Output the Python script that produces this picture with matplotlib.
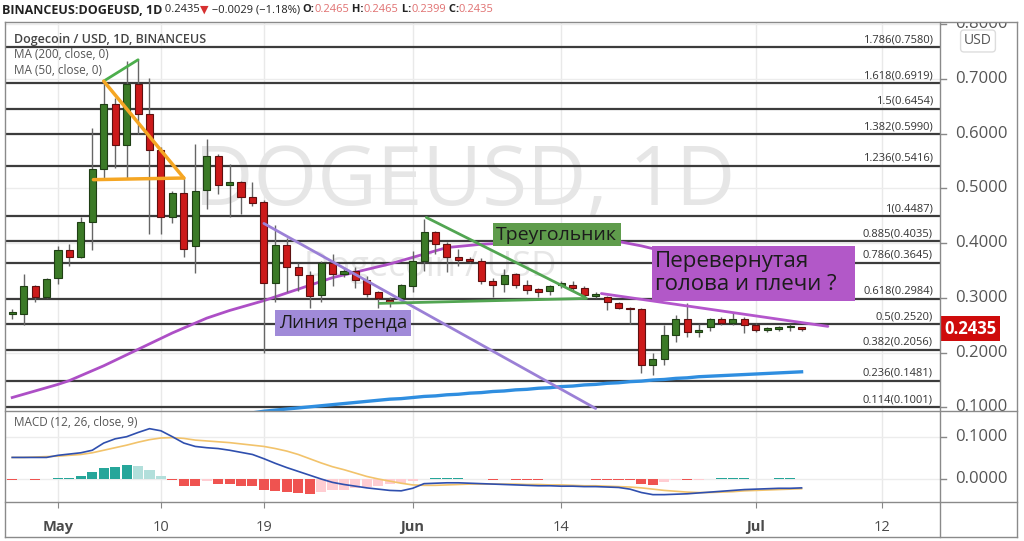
import matplotlib.pyplot as plt
import matplotlib.dates as mdates
from matplotlib.patches import Rectangle
from matplotlib.lines import Line2D
import pandas as pd

plt.rcParams['font.family'] = ['Open Sans', 'DejaVu Sans']

# daily candles, BINANCEUS:DOGEUSD
dates = pd.date_range('2021-04-27', periods=70, freq='D')
opens = [0.271, 0.271, 0.321, 0.302, 0.337, 0.388, 0.374, 0.439, 0.536, 0.654,
         0.580, 0.691, 0.636, 0.571, 0.448, 0.492, 0.395, 0.498, 0.560, 0.507,
         0.512, 0.485, 0.476, 0.328, 0.397, 0.357, 0.341, 0.306, 0.363, 0.344,
         0.350, 0.333, 0.310, 0.294, 0.299, 0.322, 0.368, 0.421, 0.399, 0.374,
         0.369, 0.368, 0.330, 0.326, 0.343, 0.324, 0.317, 0.312, 0.324, 0.324,
         0.319, 0.304, 0.302, 0.291, 0.282, 0.279, 0.177, 0.189, 0.233, 0.262,
         0.237, 0.246, 0.262, 0.255, 0.262, 0.251, 0.242, 0.244, 0.246, 0.2465]
highs = [0.279, 0.344, 0.323, 0.337, 0.395, 0.399, 0.447, 0.611, 0.696, 0.665,
         0.733, 0.737, 0.702, 0.575, 0.496, 0.519, 0.581, 0.591, 0.563, 0.545,
         0.514, 0.512, 0.478, 0.434, 0.410, 0.364, 0.350, 0.368, 0.381, 0.356,
         0.356, 0.340, 0.312, 0.302, 0.326, 0.386, 0.445, 0.423, 0.402, 0.390,
         0.375, 0.372, 0.337, 0.352, 0.345, 0.332, 0.318, 0.324, 0.330, 0.330,
         0.321, 0.310, 0.304, 0.293, 0.284, 0.282, 0.200, 0.250, 0.268, 0.290,
         0.253, 0.264, 0.266, 0.273, 0.266, 0.254, 0.246, 0.248, 0.253, 0.2465]
lows = [0.262, 0.251, 0.293, 0.299, 0.326, 0.359, 0.372, 0.388, 0.519, 0.538,
        0.518, 0.600, 0.417, 0.417, 0.437, 0.374, 0.346, 0.463, 0.490, 0.448,
        0.454, 0.467, 0.200, 0.293, 0.310, 0.313, 0.281, 0.292, 0.322, 0.338,
        0.319, 0.302, 0.282, 0.284, 0.297, 0.310, 0.350, 0.381, 0.348, 0.359,
        0.363, 0.326, 0.301, 0.310, 0.319, 0.308, 0.301, 0.306, 0.319, 0.313,
        0.302, 0.299, 0.277, 0.280, 0.253, 0.162, 0.160, 0.178, 0.220, 0.228,
        0.229, 0.240, 0.251, 0.251, 0.235, 0.237, 0.237, 0.240, 0.240, 0.2399]
closes = [0.271, 0.321, 0.301, 0.335, 0.388, 0.374, 0.439, 0.536, 0.654, 0.580,
          0.691, 0.636, 0.571, 0.448, 0.492, 0.390, 0.496, 0.560, 0.507, 0.512,
          0.485, 0.474, 0.328, 0.397, 0.357, 0.341, 0.304, 0.363, 0.344, 0.350,
          0.333, 0.308, 0.299, 0.293, 0.324, 0.368, 0.421, 0.399, 0.374, 0.370,
          0.368, 0.330, 0.324, 0.341, 0.324, 0.315, 0.310, 0.321, 0.326, 0.319,
          0.306, 0.304, 0.293, 0.282, 0.279, 0.177, 0.189, 0.233, 0.262, 0.237,
          0.242, 0.262, 0.255, 0.262, 0.251, 0.242, 0.2425, 0.2445, 0.2465, 0.2435]

ma50 = [0.118, 0.124, 0.130, 0.136, 0.142, 0.149, 0.158, 0.167, 0.176, 0.186,
        0.196, 0.206, 0.216, 0.226, 0.236, 0.245, 0.254, 0.263, 0.270, 0.277,
        0.283, 0.289, 0.295, 0.302, 0.309, 0.316, 0.323, 0.330, 0.337, 0.342,
        0.347, 0.352, 0.357, 0.362, 0.368, 0.374, 0.380, 0.386, 0.392, 0.394,
        0.396, 0.398, 0.399, 0.400, 0.401, 0.402, 0.403, 0.404, 0.404, 0.404,
        0.404, 0.404, 0.404, 0.403, 0.399, 0.395, 0.390, 0.385, 0.380, 0.375,
        0.370, 0.365, 0.360, 0.355, 0.350, 0.345, 0.340, 0.336, 0.332, 0.328]
ma200 = [0.055, 0.057, 0.059, 0.061, 0.063, 0.065, 0.067, 0.069, 0.071, 0.073,
         0.074, 0.075, 0.077, 0.078, 0.080, 0.081, 0.083, 0.084, 0.085, 0.087,
         0.088, 0.090, 0.093, 0.095, 0.097, 0.099, 0.101, 0.103, 0.105, 0.107,
         0.109, 0.111, 0.113, 0.115, 0.116, 0.118, 0.120, 0.121, 0.123, 0.124,
         0.126, 0.127, 0.129, 0.130, 0.132, 0.133, 0.135, 0.136, 0.138, 0.139,
         0.141, 0.142, 0.144, 0.145, 0.147, 0.148, 0.150, 0.151, 0.153, 0.154,
         0.156, 0.157, 0.158, 0.159, 0.160, 0.161, 0.162, 0.163, 0.164, 0.165]

macd = [0.051, 0.051, 0.051, 0.051, 0.056, 0.059, 0.062, 0.068, 0.085, 0.095,
        0.100, 0.110, 0.119, 0.114, 0.100, 0.085, 0.077, 0.074, 0.072, 0.068,
        0.063, 0.058, 0.048, 0.037, 0.027, 0.018, 0.009, 0.000, -0.008, -0.013,
        -0.017, -0.021, -0.024, -0.027, -0.028, -0.022, -0.011, -0.010, -0.009, -0.009,
        -0.010, -0.011, -0.012, -0.013, -0.014, -0.015, -0.016, -0.016, -0.017, -0.017,
        -0.018, -0.018, -0.019, -0.020, -0.024, -0.032, -0.037, -0.037, -0.036, -0.035,
        -0.033, -0.031, -0.029, -0.027, -0.025, -0.024, -0.023, -0.022, -0.022, -0.021]
signal = [0.051, 0.051, 0.052, 0.053, 0.054, 0.056, 0.058, 0.062, 0.068, 0.074,
          0.080, 0.087, 0.093, 0.097, 0.098, 0.096, 0.092, 0.090, 0.088, 0.086,
          0.083, 0.080, 0.077, 0.072, 0.066, 0.058, 0.048, 0.038, 0.029, 0.022,
          0.014, 0.006, 0.000, -0.005, -0.010, -0.014, -0.015, -0.015, -0.014, -0.013,
          -0.012, -0.012, -0.012, -0.012, -0.012, -0.013, -0.013, -0.014, -0.014, -0.015,
          -0.016, -0.016, -0.017, -0.018, -0.019, -0.021, -0.024, -0.027, -0.029, -0.031,
          -0.032, -0.032, -0.031, -0.030, -0.028, -0.027, -0.026, -0.025, -0.024, -0.023]
hist = [-0.002, -0.001, -0.002, -0.001, 0.002, 0.002, 0.008, 0.016, 0.026, 0.028,
        0.033, 0.031, 0.022, 0.006, -0.003, -0.016, -0.016, -0.005, -0.013, -0.013,
        -0.016, -0.017, -0.027, -0.029, -0.031, -0.034, -0.036, -0.030, -0.027, -0.025,
        -0.022, -0.019, -0.017, -0.013, -0.009, -0.005, 0.001, 0.002, 0.002, 0.002,
        0.001, -0.001, -0.002, -0.001, -0.002, -0.002, -0.002, -0.001, -0.001, -0.001,
        -0.001, -0.002, -0.002, -0.002, -0.002, -0.011, -0.014, -0.006, -0.003, -0.003,
        -0.002, 0.001, 0.002, 0.002, 0.002, 0.001, 0.001, 0.002, 0.002, 0.001]

fib_ratios = ['1.786', '1.618', '1.5', '1.382', '1.236', '1', '0.885', '0.786',
              '0.618', '0.5', '0.382', '0.236', '0.114']
fib_prices = [0.7580, 0.6919, 0.6454, 0.5990, 0.5416, 0.4487, 0.4035, 0.3645,
              0.2984, 0.2520, 0.2056, 0.1481, 0.1001]

price_ticks = [0.1, 0.2, 0.3, 0.4, 0.5, 0.6, 0.7, 0.8]
macd_ticks = [0.0, 0.1]
last_price = 0.2435

tick_dates = ['2021-05-01', '2021-05-10', '2021-05-19', '2021-06-01',
              '2021-06-14', '2021-07-01', '2021-07-12']
tick_labels = ['May', '10', '19', 'Jun', '14', 'Jul', '12']

# hand drawn lines: (days after first candle, price)
green_stroke = [(8.0, 0.696), (11.0, 0.735)]
orange_drop = [(8.0, 0.696), (15.0, 0.519)]
orange_base = [(7.1, 0.516), (15.0, 0.519)]
trend_line = [(22.0, 0.436), (51.0, 0.098)]
triangle_top = [(36.2, 0.447), (50.1, 0.301)]
triangle_base = [(32.1, 0.290), (50.2, 0.299)]
neckline = [(51.5, 0.308), (71.3, 0.248)]

# text boxes: text, day from, day to, price low, price high, colour, font size
notes = [
    ('Линия тренда', 23.0, 34.9, 0.231, 0.277, '#a08ad8', 13.5),
    ('Треугольник', 42.0, 53.2, 0.394, 0.437, '#5f9c4c', 14),
    ('Перевернутая\nголова и плечи ?', 55.9, 73.7, 0.295, 0.395, '#b258c8', 16),
]

W, H = 1024, 541
fig = plt.figure(figsize=(W / 100, H / 100), dpi=100)


def px_axes(x0, y0, x1, y1):
    return fig.add_axes([x0 / W, 1 - y1 / H, (x1 - x0) / W, (y1 - y0) / H])


def fig_line(x0, y0, x1, y1, color='#8a8a8a', lw=1):
    fig.add_artist(Line2D([x0 / W, x1 / W], [1 - y0 / H, 1 - y1 / H],
                          transform=fig.transFigure, color=color, lw=lw))


ax = px_axes(5, 22, 940, 411)
mx = px_axes(5, 411, 940, 502)
pax = px_axes(940, 22, 1017, 411)
pmx = px_axes(940, 411, 1017, 502)

xs = mdates.date2num(dates)
x0 = xs[0]
tick_x = mdates.date2num(pd.to_datetime(tick_dates))

for a in (ax, mx):
    a.set_xlim(x0 - 0.63, x0 + 81.1)
    for s in a.spines.values():
        s.set_visible(False)
    a.set_xticks(tick_x)
    for t in tick_x:
        a.axvline(t, color='#e9e9e9', lw=1, zorder=0)
ax.set_ylim(0.0934, 0.804)
mx.set_ylim(-0.0544, 0.1608)
ax.tick_params(length=0, labelbottom=False, labelleft=False)
ax.set_yticks([])
for p in price_ticks:
    ax.axhline(p, color='#ececec', lw=1, zorder=0)
mx.set_yticks([])
for p in macd_ticks:
    mx.axhline(p, color='#ececec', lw=1, zorder=0)
mx.tick_params(axis='x', length=4, color='#888', pad=9, labelsize=10.5, labelcolor='#4a4a4a')
mx.set_xticklabels(tick_labels)
for lbl in mx.get_xticklabels():
    if not lbl.get_text().isdigit():
        lbl.set_fontweight('bold')

# watermark
ax.text(0.492, 0.583, 'DOGEUSD, 1D', transform=ax.transAxes, ha='center', va='center',
        fontsize=59, color='#e6e6e6', zorder=0.5)
ax.text(0.455, 0.37, 'Dogecoin / USD', transform=ax.transAxes, ha='center', va='center',
        fontsize=25, color='#e6e6e6', zorder=0.5)

# fibonacci levels
for r, p in zip(fib_ratios, fib_prices):
    ax.axhline(p, color='#3c3c3c', lw=1.6, zorder=2)
    ax.annotate(f'{r}({p:.4f})', xy=(0.9925, p), xycoords=('axes fraction', 'data'),
                xytext=(0, 1.5), textcoords='offset points', ha='right', va='bottom',
                fontsize=8, color='#333', zorder=2)

# moving averages
ax.plot(xs, ma50, color='#ad4fc6', lw=2, zorder=3)
ax.plot(xs, ma200, color='#2f8ee0', lw=2.4, zorder=3)

# candles
for x, o, h, l, c in zip(xs, opens, highs, lows, closes):
    up = c >= o
    face = '#3b7a27' if up else '#cc1a1a'
    edge = '#1f3f14' if up else '#5e1010'
    ax.vlines(x, l, h, color='#666', lw=1, zorder=4)
    body = max(abs(c - o), 0.0025)
    ax.bar(x, body, bottom=min(o, c), width=0.62, color=face, edgecolor=edge, lw=0.8, zorder=5)


def seg(pts, color, lw):
    ax.plot([x0 + pts[0][0], x0 + pts[1][0]], [pts[0][1], pts[1][1]],
            color=color, lw=lw, zorder=6, solid_capstyle='round')


seg(green_stroke, '#4cae4c', 2)
seg(orange_drop, '#f5a623', 2.5)
seg(orange_base, '#f5a623', 2.5)
seg(trend_line, '#9b80d6', 2)
seg(triangle_top, '#52a552', 2)
seg(triangle_base, '#52a552', 2)
seg(neckline, '#b456cc', 2)

for text, d0, d1, lo, hi, col, fs in notes:
    ax.add_patch(Rectangle((x0 + d0, lo), d1 - d0, hi - lo, facecolor=col,
                           edgecolor='none', zorder=7))
    ax.text(x0 + d0 + 0.3, (lo + hi) / 2, text, ha='left', va='center', fontsize=fs,
            color='#1c1c1c', zorder=8, linespacing=1.1)

# MACD pane
mx.plot(xs, signal, color='#f2c36b', lw=1.2, zorder=3)
mx.plot(xs, macd, color='#2f4fae', lw=1.2, zorder=3)
hist_colors = []
prev = None
for v in hist:
    rising = prev is None or v >= prev
    if v >= 0:
        hist_colors.append('#26a69a' if rising else '#b2dfdb')
    else:
        hist_colors.append('#ffcdd2' if (prev is not None and v > prev) else '#ef5350')
    prev = v
mx.bar(xs, hist, width=0.88, color=hist_colors, zorder=2)
mx.text(0.01, 0.87, 'MACD (12, 26, close, 9)', transform=mx.transAxes, fontsize=8.5,
        color='#555', va='center')

# price scales
for a, lim, ticks in ((pax, ax.get_ylim(), price_ticks), (pmx, mx.get_ylim(), macd_ticks)):
    a.set_ylim(lim)
    a.set_xlim(0, 1)
    a.axis('off')
    for p in ticks:
        a.plot([0, 0.08], [p, p], color='#888', lw=1, clip_on=True)
        a.text(0.2, p, f'{p:.4f}', ha='left', va='center', fontsize=12, color='#555',
               clip_on=True)
pax.text(0.06, last_price, f'{last_price:.4f}', ha='left', va='center', fontsize=12,
         fontweight='bold', color='white', zorder=5,
         bbox=dict(boxstyle='square,pad=0.2', fc='#cf0b0b', ec='none'))
fig.text(978 / W, 1 - 41 / H, 'USD', ha='center', va='center', fontsize=10, color='#555',
         bbox=dict(boxstyle='round,pad=0.25', fc='white', ec='#dddddd'))

# frame
fig_line(5, 22, 1017, 22)
fig_line(5, 537, 1017, 537)
fig_line(5, 22, 5, 537)
fig_line(1017, 22, 1017, 537)
fig_line(940, 22, 940, 537)
fig_line(5, 411, 1017, 411)
fig_line(5, 502, 1017, 502)

# legend lines
fig.text(14 / W, 1 - 39 / H, 'Dogecoin / USD, 1D, BINANCEUS', fontsize=9, fontweight='semibold',
         color='#444', va='center')
fig.text(14 / W, 1 - 55 / H, 'MA (200, close, 0)', fontsize=8.5, color='#555', va='center')
fig.text(14 / W, 1 - 71 / H, 'MA (50, close, 0)', fontsize=8.5, color='#555', va='center')

# header
header = [('BINANCEUS:DOGEUSD, 1D', 'bold', 9, '#222'), (' 0.2435', 'normal', 8, '#222'),
          ('▼', 'normal', 8, '#d63030'), (' \u22120.0029 (\u22121.18%) ', 'normal', 8, '#222'),
          ('O:', 'bold', 8, '#222'), ('0.2465', 'normal', 8, '#e07070'),
          (' H:', 'bold', 8, '#222'), ('0.2465', 'normal', 8, '#e07070'),
          (' L:', 'bold', 8, '#222'), ('0.2399', 'normal', 8, '#e07070'),
          (' C:', 'bold', 8, '#222'), ('0.2435', 'normal', 8, '#e07070')]
renderer = fig.canvas.get_renderer()
hx = 2
for s, w, fs, c in header:
    t = fig.text(hx / W, 1 - 10 / H, s, fontsize=fs, fontweight=w, color=c, va='center')
    hx += t.get_window_extent(renderer=renderer).width

fig.savefig('out.png', dpi=100, facecolor='white')
